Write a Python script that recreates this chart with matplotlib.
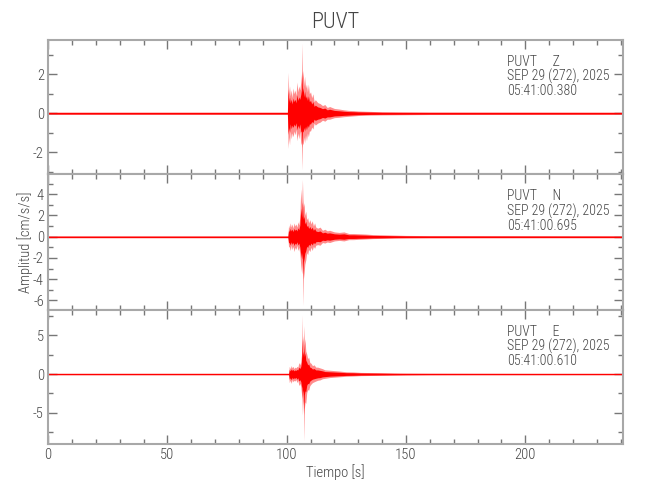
import matplotlib
matplotlib.use("Agg")
import matplotlib.pyplot as plt
from matplotlib.ticker import MultipleLocator

plt.rcParams['font.family'] = ['Roboto Condensed', 'DejaVu Sans Condensed', 'Roboto', 'DejaVu Sans']
plt.rcParams['font.stretch'] = 'condensed'
plt.rcParams['font.weight'] = 'light'
plt.rcParams['axes.unicode_minus'] = False

# Envolvente de cada componente, tiempo en s, amplitud en cm/s/s
t_z = [0, 100.3, 100.6, 100.9, 101.2, 101.5, 101.9, 102.3, 102.7, 103.1,
       103.5, 103.9, 104.3, 104.7, 105.1, 105.5, 105.9, 106.2, 106.4, 106.6,
       106.9, 107.2, 107.5, 107.9, 108.3, 108.7, 109.1, 109.5, 110.0, 110.5,
       111.0, 111.5, 112.0, 113, 114, 115, 116, 117, 118, 120,
       122, 124, 126, 128, 130, 135, 140, 150, 160, 241]
sup_z = [0.05, 0.05, 2.1, 1.0, 1.4, 0.9, 1.2, 0.8, 1.3, 1.0,
         1.2, 0.9, 1.6, 1.1, 1.4, 1.2, 1.6, 2.0, 3.6, 1.8,
         2.2, 1.4, 1.9, 1.3, 1.5, 1.1, 1.5, 1.0, 1.1, 0.8,
         1.0, 0.6, 0.7, 0.55, 0.5, 0.4, 0.45, 0.3, 0.35, 0.25,
         0.22, 0.18, 0.15, 0.14, 0.12, 0.1, 0.08, 0.07, 0.06, 0.05]
inf_z = [-0.05, -0.05, -1.8, -1.2, -1.6, -0.9, -1.3, -1.0, -1.2, -0.9,
         -1.1, -0.8, -1.4, -1.0, -1.3, -0.9, -1.5, -1.6, -2.9, -1.5,
         -1.6, -1.2, -1.5, -1.1, -1.4, -1.0, -1.2, -0.9, -0.9, -0.7,
         -0.8, -0.5, -0.6, -0.5, -0.45, -0.35, -0.4, -0.3, -0.3, -0.22,
         -0.2, -0.17, -0.15, -0.13, -0.11, -0.09, -0.08, -0.07, -0.06, -0.05]

t_n = [0, 100.5, 100.8, 101.1, 101.5, 101.9, 102.3, 102.7, 103.1, 103.5,
       103.9, 104.3, 104.7, 105.1, 105.5, 105.9, 106.3, 106.6, 106.8, 107.0,
       107.3, 107.6, 108.0, 108.4, 108.8, 109.2, 109.7, 110.2, 110.7, 111.2,
       111.7, 112.2, 113, 114, 115, 116, 117, 118, 120, 122,
       124, 126, 128, 130, 133, 136, 140, 145, 150, 160, 241]
sup_n = [0.07, 0.07, 1.1, 0.8, 1.3, 0.9, 1.2, 0.8, 1.3, 1.0,
         1.2, 0.9, 1.4, 1.1, 1.8, 4.5, 3.0, 5.4, 3.6, 2.8,
         3.2, 2.0, 2.4, 1.6, 1.8, 1.3, 1.6, 1.2, 1.5, 1.0,
         1.3, 0.9, 0.8, 0.9, 0.6, 0.7, 0.55, 0.6, 0.45, 0.4,
         0.45, 0.3, 0.3, 0.28, 0.25, 0.2, 0.18, 0.15, 0.12, 0.1, 0.08]
inf_n = [-0.07, -0.07, -1.0, -0.9, -1.3, -0.8, -1.2, -0.9, -1.4, -1.0,
         -1.2, -0.8, -1.3, -1.0, -1.6, -2.7, -3.5, -2.5, -6.5, -4.0,
         -3.4, -2.6, -2.2, -1.5, -1.7, -1.2, -1.4, -1.0, -1.3, -0.9,
         -1.1, -0.8, -0.75, -0.8, -0.55, -0.6, -0.5, -0.55, -0.4, -0.35,
         -0.4, -0.28, -0.28, -0.25, -0.22, -0.18, -0.16, -0.13, -0.11, -0.09, -0.07]

t_e = [0, 100.8, 101.1, 101.5, 101.9, 102.3, 102.7, 103.1, 103.5, 103.9,
       104.3, 104.7, 105.1, 105.5, 105.9, 106.2, 106.4, 106.6, 106.8, 107.0,
       107.2, 107.4, 107.7, 108.0, 108.4, 108.8, 109.2, 109.7, 110.2, 110.8,
       111.5, 112.2, 113, 114, 115, 116, 118, 120, 122, 125,
       128, 131, 135, 139, 145, 150, 160, 180, 200, 241]
sup_e = [0.08, 0.08, 1.0, 0.7, 1.1, 0.8, 1.0, 0.7, 0.9, 0.8,
         1.0, 0.9, 1.5, 1.2, 1.6, 2.5, 7.7, 3.5, 5.0, 4.2,
         6.3, 3.8, 4.6, 3.0, 2.6, 2.0, 2.2, 1.5, 1.4, 1.1,
         1.2, 0.9, 0.9, 0.8, 0.7, 0.55, 0.5, 0.45, 0.4, 0.3,
         0.28, 0.22, 0.2, 0.18, 0.14, 0.12, 0.1, 0.09, 0.08, 0.07]
inf_e = [-0.08, -0.08, -1.1, -0.8, -1.2, -0.7, -1.0, -0.8, -0.9, -0.7,
         -1.1, -0.8, -1.5, -1.2, -1.6, -2.5, -3.0, -5.3, -3.4, -4.0,
         -8.7, -4.5, -3.6, -3.8, -2.4, -2.0, -2.1, -1.5, -1.3, -1.1,
         -1.0, -0.9, -0.8, -0.75, -0.6, -0.55, -0.45, -0.4, -0.35, -0.28,
         -0.25, -0.2, -0.18, -0.16, -0.13, -0.11, -0.09, -0.08, -0.08, -0.07]

estacion = "PUVT"
componentes = ["Z", "N", "E"]
fecha = "SEP 29 (272), 2025"
horas = ["05:41:00.380", "05:41:00.695", "05:41:00.610"]

trazas = [(t_z, sup_z, inf_z), (t_n, sup_n, inf_n), (t_e, sup_e, inf_e)]
limites_y = [(-3.1, 3.75), (-6.9, 5.9), (-9.05, 8.3)]
paso_mayor = [2, 2, 5]
paso_menor = [1, 1, 2.5]

gris = "#a8a8a8"
texto = "#444444"

fig = plt.figure(figsize=(6.5, 5), dpi=100)
posiciones = [(0.074, 0.652, 0.8846, 0.268),
              (0.074, 0.380, 0.8846, 0.272),
              (0.074, 0.112, 0.8846, 0.268)]

for i, (t, sup, inf) in enumerate(trazas):
    ax = fig.add_axes(posiciones[i])
    ax.fill_between(t, inf, sup, color="#ff0000", alpha=0.45, lw=0)
    ax.fill_between(t, [v * 0.6 for v in inf], [v * 0.6 for v in sup],
                    color="#ff0000", lw=0)
    ax.axhline(0, color="#ff0000", lw=1.0)
    ax.set_xlim(0, 241)
    ax.set_ylim(*limites_y[i])
    ax.xaxis.set_major_locator(MultipleLocator(50))
    ax.xaxis.set_minor_locator(MultipleLocator(10))
    ax.yaxis.set_major_locator(MultipleLocator(paso_mayor[i]))
    ax.yaxis.set_minor_locator(MultipleLocator(paso_menor[i]))
    ax.tick_params(which="both", direction="in", top=True, right=True,
                   color="#777777", labelcolor=texto, labelsize=10.5, width=1)
    ax.tick_params(which="major", length=6.5, pad=3)
    ax.tick_params(which="minor", length=3.6)
    for s in ax.spines.values():
        s.set_color(gris)
        s.set_linewidth(1.5)
    if i < 2:
        ax.tick_params(labelbottom=False)
    ax.text(0.798, 0.806, f"{estacion}     {componentes[i]}", transform=ax.transAxes,
            fontsize=10, color=texto, va="baseline")
    ax.text(0.798, 0.694, fecha, transform=ax.transAxes,
            fontsize=10, color=texto, va="baseline")
    ax.text(0.798, 0.586, horas[i], transform=ax.transAxes,
            fontsize=10, color=texto, va="baseline")

fig.text(0.516, 0.956, estacion, ha="center", va="center", fontsize=16, color=texto)
fig.text(0.516, 0.056, "Tiempo [s]", ha="center", va="center", fontsize=10.5, color=texto)
fig.text(0.039, 0.516, "Amplitud [cm/s/s]", ha="center", va="center",
         rotation=90, fontsize=10.5, color=texto)

fig.savefig("out.png", dpi=100)
